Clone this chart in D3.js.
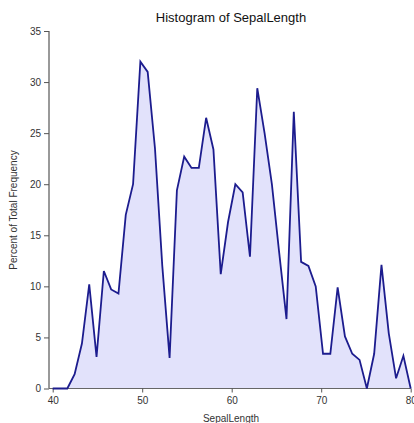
<!DOCTYPE html>
<html><head><meta charset="utf-8">
<script src="https://cdn.jsdelivr.net/npm/d3@7"></script>
<style>body{margin:0;background:#fff}svg{display:block}text{font-family:"Liberation Sans",Arial,sans-serif}</style>
</head><body><div id="c"></div>
<script>
const title = "Histogram of SepalLength";
const xLabel = "SepalLength";
const yLabel = "Percent of Total Frequency";
const xStart = 40, xEnd = 80;
const percents = [0,0,0,1.4,4.4,10.2,3.1,11.5,9.7,9.3,17.0,20.0,32.0,31.0,23.5,12.0,3.0,19.4,22.7,21.6,21.6,26.5,23.4,11.2,16.3,20.0,19.2,12.9,29.4,25.0,20.0,13.3,6.8,27.1,12.4,12.0,10.0,3.4,3.4,9.9,5.1,3.4,2.8,0,3.4,12.1,5.4,1.0,3.2,0];
const xTicks = [40,50,60,70,80];
const yTicks = [0,5,10,15,20,25,30,35];

const W = 414, H = 423;
const svg = d3.select("#c").append("svg").attr("width", W).attr("height", H);
const x = d3.scaleLinear().domain([xStart, xEnd]).range([52.7, 410.7]);
const y = d3.scaleLinear().domain([0, 35]).range([388.5, 31]);
const n = percents.length;
const pts = percents.map((v, i) => [xStart + i * (xEnd - xStart) / (n - 1), v]);

svg.append("path").datum(pts)
  .attr("d", d3.area().x(d => x(d[0])).y0(y(0)).y1(d => y(d[1])))
  .attr("fill", "#e2e2fb");

// axes
const yAx = svg.append("g").attr("transform", "translate(49,0)")
  .call(d3.axisLeft(y).tickValues(yTicks).tickSize(5).tickPadding(3).tickFormat(d3.format("d")));
yAx.select(".domain").attr("d", `M0,${y(35)}V${y(0)}`).attr("stroke", "#999").attr("stroke-width", 2);
yAx.selectAll(".tick line").attr("stroke", "#555");
yAx.selectAll("text").attr("font-size", 10).attr("fill", "#333");

const xAx = svg.append("g").attr("transform", `translate(0,${y(0)})`)
  .call(d3.axisBottom(x).tickValues(xTicks).tickSize(4).tickPadding(4).tickFormat(d3.format("d")));
xAx.select(".domain").attr("d", `M49,0H${x(80)}`).attr("stroke", "#666").attr("stroke-width", 1.2);
xAx.selectAll(".tick line").attr("stroke", "#555");
xAx.selectAll("text").attr("font-size", 10).attr("fill", "#333");

svg.append("path").datum(pts)
  .attr("d", d3.line().x(d => x(d[0])).y(d => y(d[1])))
  .attr("fill", "none").attr("stroke", "#1c1c8e").attr("stroke-width", 1.8).attr("stroke-linejoin", "miter");

svg.append("text").attr("x", 231).attr("y", 22).attr("text-anchor", "middle")
  .attr("font-size", 13).attr("fill", "#111").text(title);
svg.append("text").attr("x", 231).attr("y", 421.5).attr("text-anchor", "middle")
  .attr("font-size", 10).attr("fill", "#333").text(xLabel);
svg.append("text").attr("transform", "translate(17,210) rotate(-90)").attr("text-anchor", "middle")
  .attr("font-size", 10).attr("fill", "#333").text(yLabel);
</script></body></html>
